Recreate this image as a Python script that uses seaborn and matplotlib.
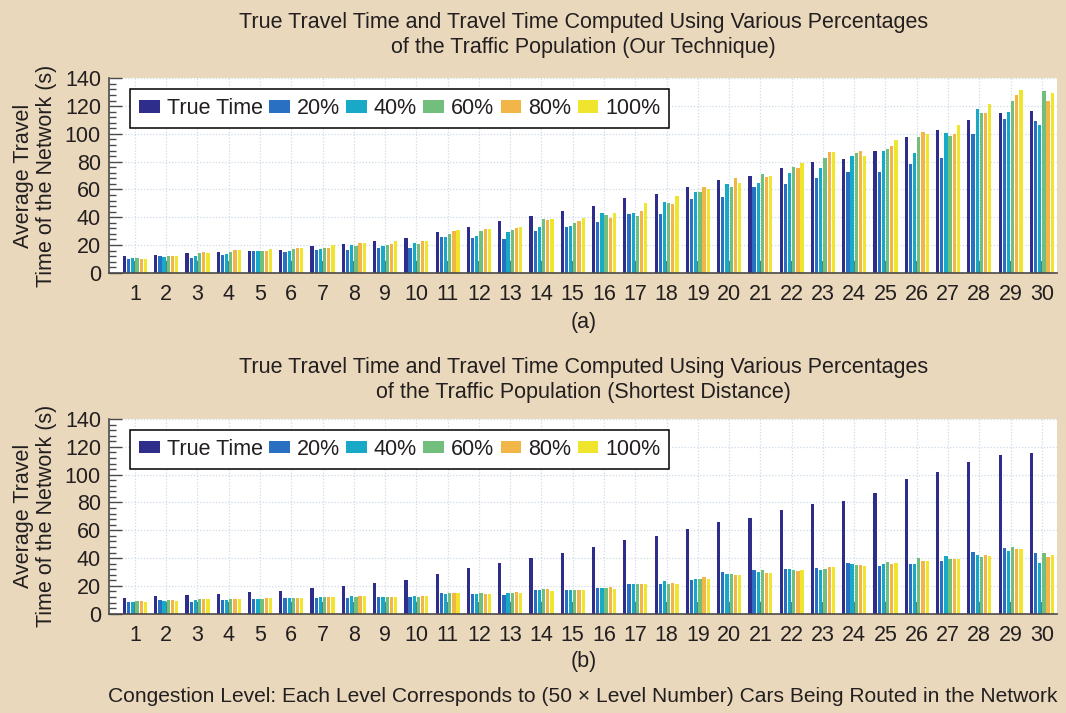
import numpy as np
import pandas as pd
import seaborn as sns
import matplotlib.pyplot as plt
from matplotlib.ticker import MultipleLocator

# Congestion levels (x axis)
levels = list(range(1, 31))
series = ['True Time', '20%', '40%', '60%', '80%', '100%']

# (a) Our technique
true_a = [12, 13, 14, 15, 16, 16.7, 19, 20.5, 22.5, 25, 29, 33.2, 37, 40.7, 44.7,
          48, 54, 57, 61.7, 66.7, 69.6, 75.4, 79.7, 82, 87.8, 97.8, 102.6, 110, 114.8, 116.5]
p20_a = [9.8, 12, 10.5, 13, 15.5, 15, 16.5, 16.3, 18, 17.5, 26, 25, 24, 30.4, 33.2,
         36.8, 42.6, 42, 53, 54.3, 61.7, 63.6, 68.2, 72.7, 72.2, 78, 82.5, 100.2, 110.5, 109]
p40_a = [10.3, 11.5, 12, 13.6, 15.8, 15.8, 17, 19.8, 19, 21.5, 25.4, 26.5, 29, 33.2, 34,
         43.3, 43.3, 50.7, 58, 63.9, 64.6, 71.8, 75.4, 84.2, 88, 86.4, 100.7, 118.2, 115.6, 106.2]
p60_a = [10.3, 12.4, 14.3, 15, 15.8, 17.2, 17.5, 19, 20, 21, 28.2, 30, 30.6, 39, 35.9,
         41.6, 41, 50, 58, 61.7, 70.8, 75.8, 82.8, 86, 89.2, 97.8, 98.3, 115.3, 123.7, 130.6]
p80_a = [10, 12.4, 14.6, 16.3, 16, 17.5, 18, 21.3, 20.5, 23.2, 30, 31.3, 32.3, 38.3, 37.3,
         39.7, 44.7, 49.8, 62, 68, 69, 75.6, 86.8, 88, 91, 101.4, 99.8, 114.8, 128, 123.4]
p100_a = [10, 12, 14.3, 16.3, 17.2, 17.5, 20, 21.3, 23, 23.2, 30.6, 31.8, 33, 39, 39.7,
          42.8, 50.5, 55.3, 60, 64.6, 69.9, 79, 86.8, 83.7, 95.7, 99.8, 106.5, 121.8, 131.3, 129.4]

# (b) Shortest distance
true_b = [11.4, 12.9, 13.6, 14.5, 15.5, 16.2, 18.3, 19.8, 21.9, 24.3, 28.6, 32.6, 36.7, 40.2, 44,
          47.6, 53.3, 56.2, 61, 65.7, 69, 74.8, 78.8, 81.4, 87.1, 97.1, 101.9, 109, 113.8, 115.5]
p20_b = [8.6, 9.5, 8.6, 9.5, 10.7, 11, 11, 11, 11.9, 11.9, 14.8, 13.8, 13.3, 16.7, 16.9,
         18.3, 21.7, 21.7, 24, 30, 31.4, 32.1, 32.9, 36.2, 34, 36, 37.9, 44.5, 47.4, 43.8]
p40_b = [8.6, 9.3, 9.5, 9.5, 10.5, 11.2, 11.7, 12.4, 11.9, 12.9, 14.3, 13.8, 14.8, 17.1, 16.9,
         18.3, 21.2, 23.6, 25, 28.8, 30.2, 31.9, 31.4, 35.7, 35.7, 35.5, 41.7, 41.9, 44.8, 36.7]
p60_b = [8.8, 9.8, 10.7, 10.7, 10.7, 11.2, 11.7, 11.9, 12.1, 12.1, 14.8, 15.2, 15, 17.4, 16.9,
         18.8, 21, 21.4, 25, 28.8, 31.4, 31.2, 32.4, 35, 36.9, 39.8, 39.5, 41, 48.1, 43.8]
p80_b = [8.8, 9.8, 10.7, 10.7, 11.2, 11.2, 11.9, 12.4, 11.9, 12.6, 14.8, 14.5, 15.7, 17.6, 17.1,
         19.3, 21, 22.4, 26.2, 27.6, 29.3, 31, 33.8, 35.2, 35.7, 37.6, 39.5, 41.9, 46.4, 40.7]
p100_b = [8.6, 9.3, 10.7, 10.7, 11.2, 11.2, 11.9, 12.4, 11.9, 12.4, 14.8, 14, 15, 16.4, 17.1,
          17.4, 21, 21.7, 25.2, 27.6, 29.3, 31.4, 33.6, 34, 36.2, 37.9, 39.5, 41.2, 46.2, 42.4]

colors = ['#2e2d8c', '#2a70c2', '#18a9c6', '#72be7c', '#f2b648', '#efe52c']
bg = '#e9d8bb'
txt = '#231f20'
fs = 15.5

plt.rcParams['font.family'] = ['Liberation Sans', 'DejaVu Sans']
plt.rcParams['text.color'] = txt
plt.rcParams['axes.labelcolor'] = txt
plt.rcParams['xtick.color'] = txt
plt.rcParams['ytick.color'] = txt


def make_df(vals):
    rows = []
    for name, v in zip(series, vals):
        for lvl, y in zip(levels, v):
            rows.append({'level': str(lvl), 'series': name, 'time': y})
    return pd.DataFrame(rows)


fig = plt.figure(figsize=(10.66, 7.13), dpi=100, facecolor=bg)
ax1 = fig.add_axes([0.1025, 0.6175, 0.8895, 0.2727])
ax2 = fig.add_axes([0.1025, 0.1393, 0.8895, 0.2730])

panels = [
    (ax1, [true_a, p20_a, p40_a, p60_a, p80_a, p100_a],
     'True Travel Time and Travel Time Computed Using Various Percentages\nof the Traffic Population (Our Technique)',
     '(a)', 1.222, -0.254),
    (ax2, [true_b, p20_b, p40_b, p60_b, p80_b, p100_b],
     'True Travel Time and Travel Time Computed Using Various Percentages\nof the Traffic Population (Shortest Distance)',
     '(b)', 1.200, -0.248),
]

for ax, vals, title, tag, ty, tagy in panels:
    df = make_df(vals)
    ax.set_facecolor('white')
    ax.set_axisbelow(True)
    sns.barplot(data=df, x='level', y='time', hue='series', hue_order=series,
                palette=colors, width=0.8, gap=0.22, saturation=1, ax=ax,
                linewidth=0, legend=True)
    ax.set_xlim(-0.82, 29.5)
    ax.set_ylim(0, 140)
    ax.yaxis.set_major_locator(MultipleLocator(20))
    ax.yaxis.set_minor_locator(MultipleLocator(4))
    ax.grid(True, which='major', linestyle=(0, (1, 1.5)), color='#cfdbe6', linewidth=0.9)
    for s in ['top', 'right']:
        ax.spines[s].set_visible(False)
    for s in ['left', 'bottom']:
        ax.spines[s].set_color('#4a4a4a')
        ax.spines[s].set_linewidth(1.2)
    ax.tick_params(axis='y', which='major', direction='in', length=9, width=1,
                   color='#4a4a4a', labelsize=fs, pad=6)
    ax.tick_params(axis='y', which='minor', direction='in', length=5, width=1,
                   color='#4a4a4a')
    ax.tick_params(axis='x', which='major', direction='in', length=9, width=1.2,
                   color='#2f6b66', labelsize=fs, pad=8)
    ax.set_xlabel('')
    ax.set_ylabel('Average Travel\nTime of the Network (s)', fontsize=fs, linespacing=1.15)
    ax.yaxis.set_label_coords(-0.055, 0.5)
    ax.legend(loc='upper left', bbox_to_anchor=(0.022, 0.945), borderaxespad=0,
              ncol=6, fontsize=fs, frameon=True, fancybox=False, framealpha=1,
              edgecolor='black', handlelength=0.95, handleheight=0.52,
              handletextpad=0.33, columnspacing=0.3, borderpad=0.42)
    ax.get_legend().get_frame().set_linewidth(1.1)
    ax.text(0.5, ty, title, transform=ax.transAxes, ha='center', va='center',
            fontsize=fs, linespacing=1.22)
    ax.text(0.5, tagy, tag, transform=ax.transAxes, ha='center', va='center', fontsize=fs)

fig.text(583 / 1066, 1 - 697 / 713,
         'Congestion Level: Each Level Corresponds to (50 \u00d7 Level Number) Cars Being Routed in the Network',
         ha='center', va='center', fontsize=15.1)

fig.savefig('out.png', dpi=100, facecolor=bg)
